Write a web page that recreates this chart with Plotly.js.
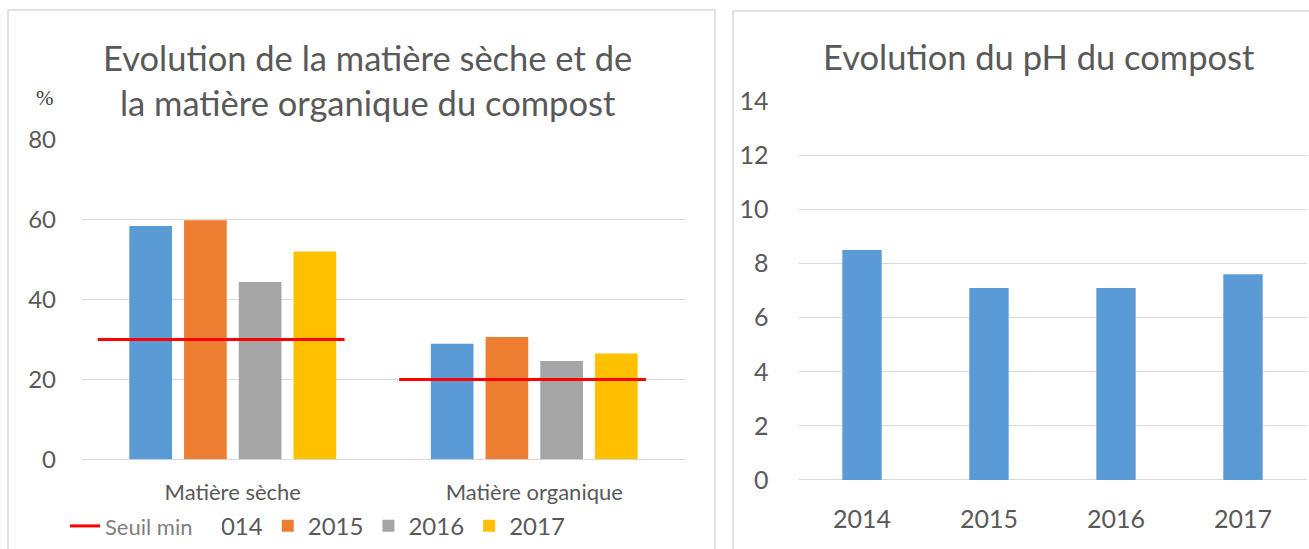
<!DOCTYPE html>
<html>
<head>
<meta charset="utf-8">
<script src="https://cdn.plot.ly/plotly-3.0.1.min.js"></script>
<style>
html,body{margin:0;padding:0;background:#fff;}
#chart{width:1309px;height:549px;}
</style>
</head>
<body>
<div id="chart"></div>
<script>
// ---- data ----
const categories = ["Matière sèche", "Matière organique"];
const years = ["2014", "2015", "2016", "2017"];
const values2014 = [58.4, 28.9];
const values2015 = [59.8, 30.6];
const values2016 = [44.4, 24.6];
const values2017 = [52.0, 26.5];
const seuilMin = [30, 20];
const seuilLabel = "Seuil min";
const phYears = ["2014", "2015", "2016", "2017"];
const phValues = [8.5, 7.1, 7.1, 7.6];
const yTicksLeft = [0, 20, 40, 60, 80];
const yTicksRight = [0, 2, 4, 6, 8, 10, 12, 14];
const titleLeft = "Evolution de la matière sèche et de<br>la matière organique du compost";
const titleRight = "Evolution du pH du compost";
const unitLabel = "%";

// ---- styles ----
const W = 1309, H = 549;
const colors = ["#5b9bd5", "#ed7d31", "#a5a5a5", "#ffc000"];
const FONT = "Lato, 'Open Sans', sans-serif";
const TXT = "#595959";
const GRID = "#d9d9d9";
const px = v => v / W;
const py = v => 1 - v / H;

const series = [values2014, values2015, values2016, values2017];
const catIdx = categories.map((c, i) => i);

const traces = [];
series.forEach((vals, k) => {
  traces.push({
    type: "bar", x: catIdx, y: vals, name: years[k],
    marker: {color: colors[k]}, xaxis: "x", yaxis: "y",
    legend: "legend", hoverinfo: "y"
  });
});
// threshold segments (one per category)
const segL = 0.448, segR = 0.371;
const sx = [], sy = [];
catIdx.forEach(i => { sx.push(i - segL, i + segR, null); sy.push(seuilMin[i], seuilMin[i], null); });
traces.push({
  type: "scatter", mode: "lines", x: sx, y: sy, name: seuilLabel,
  line: {color: "#ff0000", width: 3}, xaxis: "x", yaxis: "y",
  legend: "legend2", connectgaps: false
});
traces.push({
  type: "bar", x: phYears, y: phValues, name: "pH", width: 0.31,
  marker: {color: colors[0]}, xaxis: "x2", yaxis: "y2", showlegend: false
});

const layout = {
  width: W, height: H,
  margin: {l: 0, r: 0, t: 0, b: 0},
  paper_bgcolor: "#fff", plot_bgcolor: "rgba(0,0,0,0)",
  font: {family: FONT, color: TXT},
  barmode: "group", bargap: 0.274, bargroupgap: 0.22,
  showlegend: true,
  xaxis: {
    domain: [px(82), px(685)], anchor: "y", range: [-0.5, 1.5],
    tickmode: "array", tickvals: catIdx, ticktext: categories,
    showgrid: false, zeroline: false, showline: false, ticks: "",
    tickfont: {size: 22, color: TXT, family: FONT}, ticklabelstandoff: 18, fixedrange: true
  },
  yaxis: {
    domain: [py(461.9), py(140.4)], anchor: "x", range: [0, 80],
    tickmode: "array", tickvals: yTicksLeft,
    showgrid: true, gridcolor: GRID, gridwidth: 1.3,
    zeroline: true, zerolinecolor: GRID, zerolinewidth: 1.3, showline: false, ticks: "",
    tickfont: {size: 24, color: TXT, family: FONT}, ticklabelstandoff: 25, fixedrange: true
  },
  xaxis2: {
    domain: [px(798.5), px(1306.5)], anchor: "y2", type: "category",
    showgrid: false, zeroline: false, showline: false, ticks: "",
    tickfont: {size: 25, color: TXT, family: FONT}, ticklabelstandoff: 22, fixedrange: true
  },
  yaxis2: {
    domain: [py(482.6), py(101.8)], anchor: "x2", range: [0, 14],
    tickmode: "array", tickvals: yTicksRight,
    showgrid: true, gridcolor: GRID, gridwidth: 1.3,
    zeroline: true, zerolinecolor: GRID, zerolinewidth: 1.3, showline: false, ticks: "",
    tickfont: {size: 25, color: TXT, family: FONT}, ticklabelstandoff: 29, fixedrange: true
  },
  legend: {
    orientation: "h", x: px(167), xanchor: "left", y: py(529), yanchor: "middle",
    font: {size: 24, color: TXT, family: FONT}, bgcolor: "rgba(0,0,0,0)",
    traceorder: "normal", itemclick: false, itemdoubleclick: false
  },
  legend2: {
    orientation: "h", x: px(65), xanchor: "left", y: py(529), yanchor: "middle",
    font: {size: 22, color: "#7f7f7f", family: FONT}, bgcolor: "#ffffff",
    entrywidth: 112, entrywidthmode: "pixels",
    itemclick: false, itemdoubleclick: false
  },
  shapes: [
    {type: "rect", xref: "paper", yref: "paper", x0: px(8), x1: px(715), y0: -0.1, y1: py(10),
     line: {color: GRID, width: 1.5}, fillcolor: "rgba(0,0,0,0)", layer: "below"},
    {type: "rect", xref: "paper", yref: "paper", x0: px(733), x1: 1.1, y0: -0.1, y1: py(11),
     line: {color: GRID, width: 1.5}, fillcolor: "rgba(0,0,0,0)", layer: "below"}
  ],
  annotations: [
    {text: titleLeft, xref: "paper", yref: "paper", x: px(367.5), y: py(80), xanchor: "center", yanchor: "middle",
     showarrow: false, align: "center", font: {size: 34.5, color: TXT, family: FONT}},
    {text: titleRight, xref: "paper", yref: "paper", x: px(1039), y: py(57), xanchor: "center", yanchor: "middle",
     showarrow: false, font: {size: 34.5, color: TXT, family: FONT}},
    {text: unitLabel, xref: "paper", yref: "paper", x: px(45), y: py(99), xanchor: "center", yanchor: "middle",
     showarrow: false, font: {size: 21, color: "#404040", family: "'Liberation Serif', serif"}}
  ]
};

Plotly.newPlot("chart", traces, layout, {displayModeBar: false});
</script>
</body>
</html>
